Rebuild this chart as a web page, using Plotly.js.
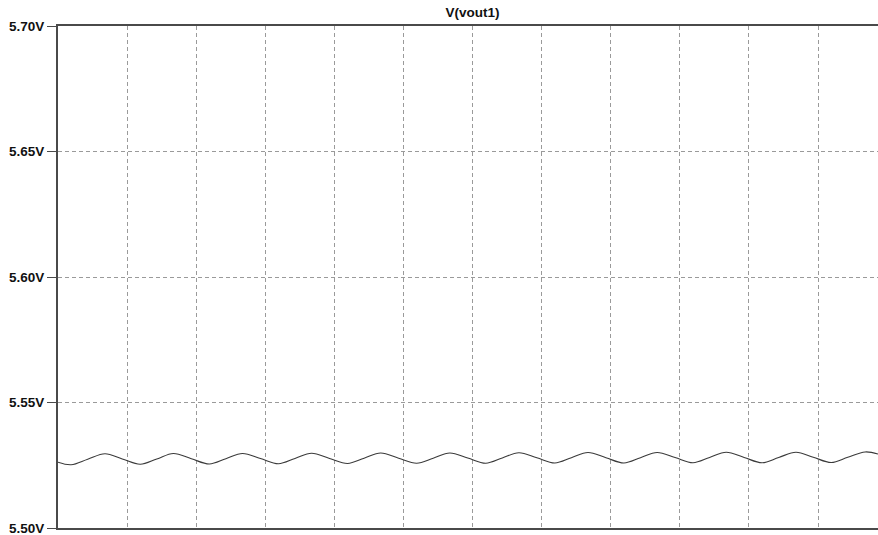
<!DOCTYPE html>
<html>
<head>
<meta charset="utf-8">
<script src="https://cdn.plot.ly/plotly-3.0.1.min.js"></script>
<style>html,body{margin:0;padding:0;background:#fff;}#chart{width:878px;height:535px;}</style>
</head>
<body>
<div id="chart"></div>
<script>
// time (grid divisions) and V(vout1) samples
const time = [0.00,
  0.19, 0.43, 0.68, 0.93,
  1.19, 1.43, 1.67, 1.93,
  2.19, 2.43, 2.67, 2.93,
  3.19, 3.43, 3.67, 3.93,
  4.19, 4.43, 4.67, 4.93,
  5.19, 5.43, 5.67, 5.93,
  6.19, 6.43, 6.67, 6.93,
  7.19, 7.43, 7.67, 7.93,
  8.19, 8.43, 8.67, 8.93,
  9.19, 9.43, 9.67, 9.93,
  10.19, 10.43, 10.68, 10.93,
  11.19, 11.43, 11.68, 11.867];
const vout1 = [5.5262,
  5.5252, 5.5274, 5.5296, 5.5275,
  5.5254, 5.5275, 5.5297, 5.5276,
  5.5255, 5.5276, 5.5297, 5.5277,
  5.5256, 5.5277, 5.5298, 5.5277,
  5.5257, 5.5278, 5.5299, 5.5278,
  5.5258, 5.5278, 5.5299, 5.5279,
  5.5258, 5.5279, 5.5300, 5.5280,
  5.5259, 5.5280, 5.5301, 5.5280,
  5.5259, 5.5280, 5.5301, 5.5281,
  5.5260, 5.5281, 5.5302, 5.5281,
  5.5260, 5.5281, 5.5302, 5.5282,
  5.5261, 5.5282, 5.5303, 5.5295];
const yTicks = [5.50, 5.55, 5.60, 5.65, 5.70];
const yTickText = ['5.50V', '5.55V', '5.60V', '5.65V', '5.70V'];
const titleText = 'V(vout1)';

const trace = {
  x: time, y: vout1, type: 'scatter', mode: 'lines',
  line: {color: '#3a3a3a', width: 1.1, shape: 'spline', smoothing: 1.0},
  hoverinfo: 'skip', showlegend: false
};

const layout = {
  width: 878, height: 535,
  margin: {l: 58, r: 0, t: 26, b: 7, pad: 0},
  paper_bgcolor: '#ffffff', plot_bgcolor: '#ffffff',
  title: {text: titleText, x: 0.5055, xanchor: 'center', xref: 'paper',
          y: 1 - 12/535, yref: 'container', yanchor: 'middle',
          font: {family: 'Liberation Sans, Arial, sans-serif', size: 13.5, color: '#111', weight: 'bold'}},
  xaxis: {
    range: [0, 11.867], dtick: 1, tick0: 0,
    showticklabels: false, ticks: '',
    showgrid: true, gridcolor: '#9a9a9a', griddash: '4px,3px', gridwidth: 1,
    showline: true, linecolor: '#4a4a4a', linewidth: 2, mirror: true,
    zeroline: false, fixedrange: true
  },
  yaxis: {
    range: [5.50, 5.70], tickmode: 'array', tickvals: yTicks, ticktext: yTickText,
    ticklabeloverflow: 'allow',
    ticks: 'outside', ticklen: 9, tickcolor: '#4a4a4a', tickwidth: 1,
    tickfont: {family: 'Liberation Sans, Arial, sans-serif', size: 13.5, color: '#111', weight: 'bold'},
    showgrid: true, gridcolor: '#9a9a9a', griddash: '4px,3px', gridwidth: 1,
    showline: true, linecolor: '#4a4a4a', linewidth: 2, mirror: false,
    zeroline: false, fixedrange: true
  }
};

Plotly.newPlot('chart', [trace], layout, {staticPlot: true, displayModeBar: false});
</script>
</body>
</html>
